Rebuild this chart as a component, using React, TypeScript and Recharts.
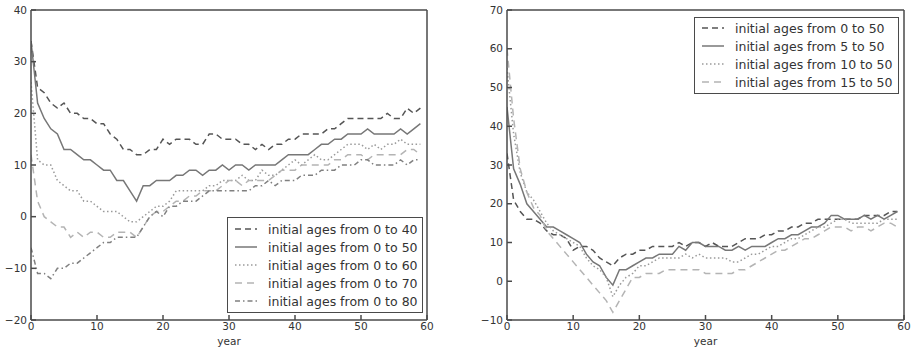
import React from 'react';
import { LineChart, Line, XAxis, YAxis } from 'recharts';

// ---------- data ----------
const years = [
  0, 1, 2, 3, 4, 5, 6, 7, 8, 9, 10, 11, 12, 13, 14, 15, 16, 17, 18, 19,
  20, 21, 22, 23, 24, 25, 26, 27, 28, 29, 30, 31, 32, 33, 34, 35, 36, 37, 38, 39,
  40, 41, 42, 43, 44, 45, 46, 47, 48, 49, 50, 51, 52, 53, 54, 55, 56, 57, 58, 59,
];

// left panel
const ages0to40 = [
  34, 25, 24, 22, 21, 22, 20, 20, 19, 19,
  18, 18, 16, 15, 13, 13, 12, 12, 13, 13,
  15, 14, 15, 15, 15, 14, 14, 16, 16, 15,
  15, 15, 14, 14, 13, 14, 13, 14, 14, 15,
  15, 16, 16, 16, 16, 17, 17, 18, 19, 19,
  19, 19, 19, 19, 20, 19, 19, 21, 20, 21,
];
const ages0to50 = [
  34, 22, 19, 17, 16, 13, 13, 12, 11, 11,
  10, 9, 9, 7, 7, 5, 3, 6, 6, 7,
  7, 7, 8, 8, 9, 9, 8, 9, 9, 10,
  9, 10, 10, 9, 10, 10, 10, 10, 11, 12,
  12, 12, 12, 13, 14, 14, 15, 15, 16, 16,
  16, 17, 16, 16, 16, 16, 17, 16, 17, 18,
];
const ages0to60 = [
  26, 11, 10, 10, 7, 6, 5, 5, 3, 3,
  2, 1, 1, 1, 0, -1, -1, 0, 1, 2,
  2, 3, 5, 5, 5, 5, 5, 6, 6, 7,
  7, 7, 8, 7, 7, 9, 8, 8, 9, 10,
  11, 10, 11, 12, 11, 11, 12, 13, 14, 14,
  14, 13, 14, 13, 14, 14, 15, 14, 14, 14,
];
const ages0to70 = [
  12, 3, 0, -1, -2, -2, -4, -3, -4, -3,
  -3, -4, -4, -3, -3, -3, -4, -2, 0, 1,
  1, 2, 3, 3, 4, 4, 5, 5, 5, 6,
  7, 7, 6, 7, 7, 7, 7, 8, 9, 9,
  9, 10, 10, 10, 10, 10, 11, 11, 12, 12,
  12, 11, 12, 12, 12, 12, 12, 13, 13, 12,
];
const ages0to80 = [
  -6, -11, -11, -12, -10, -10, -9, -9, -8, -7,
  -6, -5, -5, -4, -4, -4, -4, -2, 0, 1,
  0, 2, 2, 3, 3, 3, 4, 5, 5, 5,
  5, 5, 5, 5, 6, 6, 7, 6, 7, 7,
  7, 8, 8, 8, 9, 9, 9, 10, 10, 10,
  11, 11, 10, 10, 10, 10, 11, 10, 11, 11,
];

// right panel
const r0to50 = [
  33, 21, 18, 16, 16, 15, 13, 12, 12, 11,
  8, 9, 9, 8, 6, 5, 4, 6, 7, 7,
  8, 8, 9, 9, 9, 9, 10, 9, 10, 10,
  9, 10, 9, 9, 9, 10, 11, 11, 11, 12,
  12, 13, 13, 14, 14, 15, 15, 16, 16, 16,
  16, 16, 16, 16, 17, 17, 17, 17, 18, 18,
];
const r5to50 = [
  45, 29, 25, 20, 18, 16, 14, 14, 13, 12,
  11, 10, 7, 5, 4, 1, -1, 3, 3, 4,
  5, 6, 6, 7, 7, 7, 9, 8, 10, 10,
  9, 9, 9, 8, 8, 9, 8, 9, 9, 9,
  10, 11, 11, 12, 12, 13, 14, 14, 15, 17,
  17, 16, 16, 16, 17, 16, 17, 16, 17, 18,
];
const r10to50 = [
  55, 38, 28, 23, 21, 18, 15, 13, 12, 11,
  10, 9, 6, 4, 3, 1, -4, -1, 1, 2,
  4, 4, 5, 6, 6, 6, 6, 7, 6, 7,
  6, 6, 6, 6, 5, 5, 6, 7, 7, 8,
  9, 9, 10, 11, 11, 12, 13, 14, 14, 15,
  16, 16, 15, 15, 15, 15, 15, 16, 16, 16,
];
const r15to50 = [
  60, 42, 29, 23, 19, 17, 13, 11, 9, 7,
  5, 3, 1, -1, -3, -5, -8, -5, -2, 1,
  1, 2, 2, 2, 3, 3, 3, 3, 3, 3,
  2, 2, 2, 2, 2, 3, 3, 4, 5, 6,
  7, 8, 8, 9, 10, 11, 11, 12, 13, 14,
  14, 14, 13, 14, 14, 13, 14, 15, 15, 14,
];

const xTicks = [0, 10, 20, 30, 40, 50, 60];
const leftYTicks = [-20, -10, 0, 10, 20, 30, 40];
const rightYTicks = [-10, 0, 10, 20, 30, 40, 50, 60, 70];

const leftLabels = [
  'initial ages from 0 to 40',
  'initial ages from 0 to 50',
  'initial ages from 0 to 60',
  'initial ages from 0 to 70',
  'initial ages from 0 to 80',
];
const rightLabels = [
  'initial ages from 0 to 50',
  'initial ages from 5 to 50',
  'initial ages from 10 to 50',
  'initial ages from 15 to 50',
];

// ---------- styles ----------
type Style = { color: string; dash?: string; width: number };
const leftStyles: Style[] = [
  { color: '#555', dash: '6 4', width: 1.5 },
  { color: '#777', width: 1.5 },
  { color: '#9a9a9a', dash: '1.5 2.5', width: 1.5 },
  { color: '#b4b4b4', dash: '7 5', width: 1.5 },
  { color: '#808080', dash: '5 3 1.5 3', width: 1.5 },
];
const rightStyles: Style[] = [
  { color: '#555', dash: '6 4', width: 1.5 },
  { color: '#777', width: 1.5 },
  { color: '#9a9a9a', dash: '1.5 2.5', width: 1.5 },
  { color: '#b4b4b4', dash: '7 5', width: 1.5 },
];

const leftSeries = [ages0to40, ages0to50, ages0to60, ages0to70, ages0to80];
const rightSeries = [r0to50, r5to50, r10to50, r15to50];

const buildRows = (series: number[][]) =>
  years.map((year, i) => {
    const row: Record<string, number> = { year };
    series.forEach((s, k) => {
      row['s' + k] = s[i];
    });
    return row;
  });

const leftData = buildRows(leftSeries);
const rightData = buildRows(rightSeries);

const FONT = '"DejaVu Sans", sans-serif';
const AXIS = '#4a4a4a';
const TEXT = '#333';
const minus = (v: number) => String(v).replace('-', '\u2212');

type PanelProps = {
  data: Record<string, number>[];
  styles: Style[];
  yDomain: [number, number];
  yTicks: number[];
  width: number;
  yAxisWidth: number;
  marginRight: number;
};

function Panel({ data, styles, yDomain, yTicks, width, yAxisWidth, marginRight }: PanelProps) {
  const tickStyle = { fill: TEXT, fontSize: 10.5, fontFamily: FONT };
  return (
    <LineChart
      width={width}
      height={347}
      data={data}
      margin={{ top: 9, right: marginRight, bottom: 0, left: 0 }}
    >
      <XAxis
        dataKey="year"
        type="number"
        domain={[0, 60]}
        ticks={xTicks}
        allowDataOverflow
        height={27}
        tickSize={-5}
        tickMargin={8}
        stroke={AXIS}
        strokeWidth={1.5}
        tick={tickStyle}
        label={{ value: 'year', position: 'insideBottom', offset: 2, fill: TEXT, fontSize: 10.5, fontFamily: FONT }}
      />
      <XAxis
        xAxisId="top"
        orientation="top"
        dataKey="year"
        type="number"
        domain={[0, 60]}
        ticks={xTicks}
        allowDataOverflow
        height={1}
        tickSize={-5}
        stroke={AXIS}
        strokeWidth={1.5}
        tick={false}
      />
      <YAxis
        type="number"
        domain={yDomain}
        ticks={yTicks}
        allowDataOverflow
        width={yAxisWidth}
        tickSize={-5}
        tickMargin={9}
        stroke={AXIS}
        strokeWidth={1.5}
        tick={tickStyle}
        tickFormatter={minus}
      />
      <YAxis
        yAxisId="right"
        orientation="right"
        type="number"
        domain={yDomain}
        ticks={yTicks}
        allowDataOverflow
        width={1}
        tickSize={-5}
        stroke={AXIS}
        strokeWidth={1.5}
        tick={false}
      />
      {styles.map((s, k) => (
        <Line
          key={k}
          dataKey={'s' + k}
          type="linear"
          stroke={s.color}
          strokeWidth={s.width}
          strokeDasharray={s.dash}
          dot={false}
          activeDot={false}
          isAnimationActive={false}
        />
      ))}
    </LineChart>
  );
}

function LegendBox({
  labels,
  styles,
  left,
  top,
  width,
  height,
  padTop,
}: {
  labels: string[];
  styles: Style[];
  left: number;
  top: number;
  width: number;
  height: number;
  padTop: number;
}) {
  return (
    <div
      style={{
        position: 'absolute',
        left,
        top,
        width,
        height,
        boxSizing: 'border-box',
        border: '1.5px solid #4a4a4a',
        background: '#fff',
        paddingTop: padTop,
        fontFamily: FONT,
        fontSize: 12.5,
        color: TEXT,
      }}
    >
      {labels.map((lab, k) => (
        <div key={k} style={{ display: 'flex', alignItems: 'center', height: 18, whiteSpace: 'nowrap' }}>
          <svg width={22} height={6} style={{ marginLeft: 7, marginRight: 11, flex: 'none' }}>
            <line
              x1={0}
              y1={3}
              x2={22}
              y2={3}
              stroke={styles[k].color}
              strokeWidth={styles[k].width}
              strokeDasharray={styles[k].dash}
            />
          </svg>
          <span>{lab}</span>
        </div>
      ))}
    </div>
  );
}

export default function App() {
  return (
    <div style={{ position: 'absolute', left: 0, top: 0, width: 914, height: 347, background: '#fff', overflow: 'hidden' }}>
      <div style={{ position: 'absolute', left: 0, top: 0 }}>
        <Panel
          data={leftData}
          styles={leftStyles}
          yDomain={[-20, 40]}
          yTicks={leftYTicks}
          width={440}
          yAxisWidth={31}
          marginRight={12}
        />
      </div>
      <div style={{ position: 'absolute', left: 470, top: 0 }}>
        <Panel
          data={rightData}
          styles={rightStyles}
          yDomain={[-10, 70]}
          yTicks={rightYTicks}
          width={444}
          yAxisWidth={37}
          marginRight={9}
        />
      </div>
      <LegendBox labels={leftLabels} styles={leftStyles} left={227} top={217} width={196} height={96} padTop={2} />
      <LegendBox labels={rightLabels} styles={rightStyles} left={694} top={17} width={205} height={77} padTop={1} />
    </div>
  );
}
